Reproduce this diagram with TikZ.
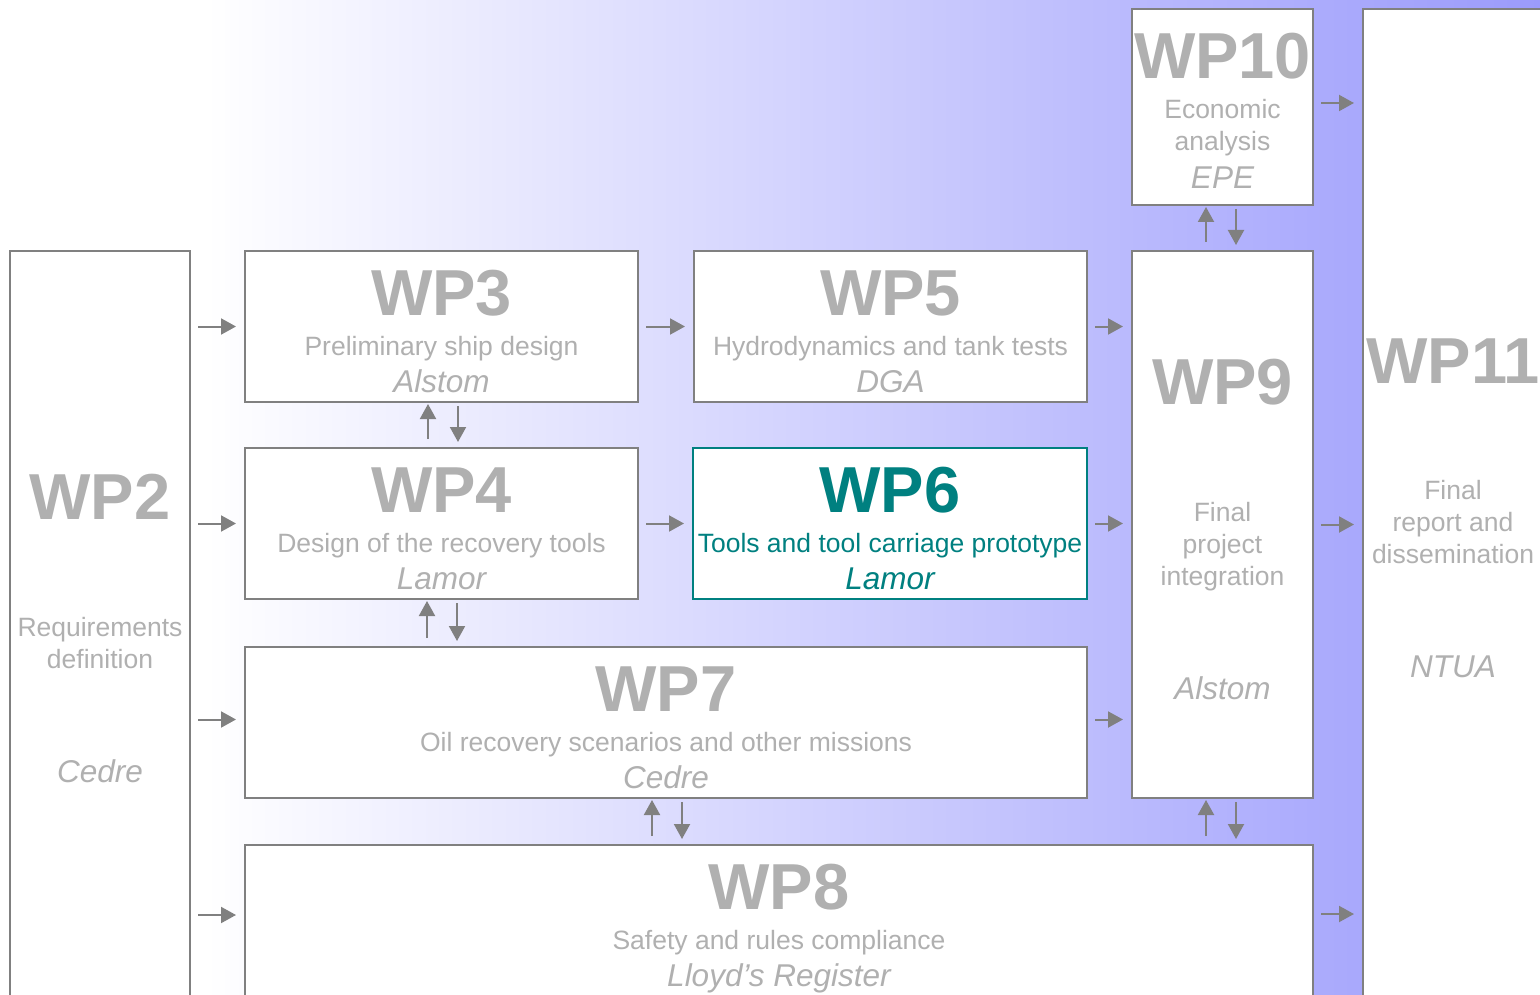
\documentclass[tikz,border=0pt]{standalone}
\usepackage{fontspec}
\setmainfont{Liberation Sans}
\usetikzlibrary{arrows.meta,positioning,calc}

\definecolor{wpline}{RGB}{128,128,128}
\definecolor{wptext}{RGB}{176,176,176}
\definecolor{wpteal}{RGB}{0,128,128}
\definecolor{wplav}{RGB}{155,155,252}

\tikzset{
  wpbox/.style={draw=wpline, line width=2pt, fill=white, inner sep=0pt},
  wptitle/.style={text=wptext, font=\fontsize{65}{65}\selectfont\bfseries, anchor=base, inner sep=0pt},
  wpsub/.style={text=wptext, font=\fontsize{26.5}{32}\selectfont, anchor=base, inner sep=0pt},
  wplead/.style={text=wptext, font=\fontsize{31.5}{32}\selectfont\itshape, anchor=base, inner sep=0pt},
  wptip/.style={-{Triangle[length=15pt,width=16pt]}},
  flow/.style={draw=wpline, line width=2pt, wptip, shorten <=7pt, shorten >=8pt},
  upflow/.style={draw=wpline, line width=2pt, wptip, shorten <=8pt, shorten >=1pt},
  downflow/.style={draw=wpline, line width=2pt, wptip, shorten <=3pt, shorten >=5pt},
}

\begin{document}
\begin{tikzpicture}[x=1pt,y=-1pt]
\useasboundingbox (0,0) rectangle (1540,995);
\clip (0,0) rectangle (1540,995);

% background
\fill[white] (0,0) rectangle (1540,995);
\shade[left color=white, right color=wplav] (205,0) rectangle (1540,995);

% work package boxes
\node[wpbox, minimum width=180, minimum height=759] (wp2) at (100,630.5) {};
\node[wpbox, minimum width=393, minimum height=151] (wp3) at (441.5,326.5) {};
\node[wpbox, minimum width=393, minimum height=151] (wp5) at (890.5,326.5) {};
\node[wpbox, minimum width=393, minimum height=151] (wp4) at (441.5,523.5) {};
\node[wpbox, draw=wpteal, minimum width=394, minimum height=151] (wp6) at (890,523.5) {};
\node[wpbox, minimum width=842, minimum height=151] (wp7) at (666,722.5) {};
\node[wpbox, minimum width=1068, minimum height=154] (wp8) at (779,922) {};
\node[wpbox, minimum width=181, minimum height=547] (wp9) at (1222.5,524.5) {};
\node[wpbox, minimum width=181, minimum height=196] (wp10) at (1222.5,107) {};
\node[wpbox, minimum width=180, minimum height=1001] (wp11) at (1453,509.5) {};

% texts
\node[wptitle] (wp2-title) at ($(wp2.north)+(0,269)$) {WP2};
\node[wpsub] (wp2-text1) at ($(wp2.north)+(0,386)$) {Requirements};
\node[wpsub] (wp2-text2) at ($(wp2.north)+(0,418)$) {definition};
\node[wplead] (wp2-lead) at ($(wp2.north)+(0,532)$) {Cedre};

\node[wptitle] (wp3-title) at ($(wp3.north)+(0,65)$) {WP3};
\node[wpsub] (wp3-text) at ($(wp3.north)+(0,105)$) {Preliminary ship design};
\node[wplead] (wp3-lead) at ($(wp3.north)+(0,142)$) {Alstom};

\node[wptitle] (wp5-title) at ($(wp5.north)+(0,65)$) {WP5};
\node[wpsub] (wp5-text) at ($(wp5.north)+(0,105)$) {Hydrodynamics and tank tests};
\node[wplead] (wp5-lead) at ($(wp5.north)+(0,142)$) {DGA};

\node[wptitle] (wp4-title) at ($(wp4.north)+(0,65)$) {WP4};
\node[wpsub] (wp4-text) at ($(wp4.north)+(0,105)$) {Design of the recovery tools};
\node[wplead] (wp4-lead) at ($(wp4.north)+(0,142)$) {Lamor};

\node[wptitle, text=wpteal] (wp6-title) at ($(wp6.north)+(0,65)$) {WP6};
\node[wpsub, text=wpteal] (wp6-text) at ($(wp6.north)+(0,105)$) {Tools and tool carriage prototype};
\node[wplead, text=wpteal] (wp6-lead) at ($(wp6.north)+(0,142)$) {Lamor};

\node[wptitle] (wp7-title) at ($(wp7.north)+(0,65)$) {WP7};
\node[wpsub] (wp7-text) at ($(wp7.north)+(0,105)$) {Oil recovery scenarios and other missions};
\node[wplead] (wp7-lead) at ($(wp7.north)+(0,142)$) {Cedre};

\node[wptitle] (wp8-title) at ($(wp8.north)+(0,65)$) {WP8};
\node[wpsub] (wp8-text) at ($(wp8.north)+(0,105)$) {Safety and rules compliance};
\node[wplead] (wp8-lead) at ($(wp8.north)+(0,142)$) {Lloyd’s Register};

\node[wptitle] (wp9-title) at ($(wp9.north)+(0,154)$) {WP9};
\node[wpsub] (wp9-text1) at ($(wp9.north)+(0,271)$) {Final};
\node[wpsub] (wp9-text2) at ($(wp9.north)+(0,303)$) {project};
\node[wpsub] (wp9-text3) at ($(wp9.north)+(0,335)$) {integration};
\node[wplead] (wp9-lead) at ($(wp9.north)+(0,449)$) {Alstom};

\node[wptitle] (wp10-title) at ($(wp10.north)+(0,71)$) {WP10};
\node[wpsub] (wp10-text1) at ($(wp10.north)+(0,111)$) {Economic};
\node[wpsub] (wp10-text2) at ($(wp10.north)+(0,143)$) {analysis};
\node[wplead] (wp10-lead) at ($(wp10.north)+(0,181)$) {EPE};

\node[wptitle] (wp11-title) at ($(wp11.north)+(0,375)$) {WP11};
\node[wpsub] (wp11-text1) at ($(wp11.north)+(0,491)$) {Final};
\node[wpsub] (wp11-text2) at ($(wp11.north)+(0,523)$) {report and};
\node[wpsub] (wp11-text3) at ($(wp11.north)+(0,555)$) {dissemination};
\node[wplead] (wp11-lead) at ($(wp11.north)+(0,669)$) {NTUA};

% requirements feed the design packages
\draw[flow] (wp2.east |- wp3.west) -- (wp3.west);
\draw[flow] (wp2.east |- wp4.west) -- (wp4.west);
\draw[flow] ([yshift=3pt]wp2.east |- wp7.west) -- ([yshift=3pt]wp7.west);
\draw[flow] ([yshift=7pt]wp2.east |- wp8.west) -- ([yshift=7pt]wp8.west);

% design chain towards integration
\draw[flow] (wp3.east) -- (wp5.west);
\draw[flow] (wp4.east) -- (wp6.west);
\draw[flow] (wp5.east) -- (wp5.east -| wp9.west);
\draw[flow] (wp6.east) -- (wp6.east -| wp9.west);
\draw[flow] ([yshift=3pt]wp7.east) -- ([yshift=3pt]wp7.east -| wp9.west);

% into dissemination
\draw[flow] ([yshift=4pt]wp10.east) -- ([yshift=4pt]wp10.east -| wp11.west);
\draw[flow] (wp9.east) -- (wp9.east -| wp11.west);
\draw[flow] ([yshift=8pt]wp8.east) -- ([yshift=8pt]wp8.east -| wp11.west);

% two-way exchanges
\draw[upflow] ([xshift=-13.5pt]wp4.north) -- ([xshift=-13.5pt]wp3.south);
\draw[downflow] ([xshift=16.5pt]wp3.south) -- ([xshift=16.5pt]wp4.north);
\draw[upflow] ([xshift=-14.5pt]wp4.south |- wp7.north) -- ([xshift=-14.5pt]wp4.south);
\draw[downflow] ([xshift=15.5pt]wp4.south) -- ([xshift=15.5pt]wp4.south |- wp7.north);
\draw[upflow] ([xshift=-14pt]wp7.south |- wp8.north) -- ([xshift=-14pt]wp7.south);
\draw[downflow] ([xshift=16pt]wp7.south) -- ([xshift=16pt]wp7.south |- wp8.north);
\draw[upflow] ([xshift=-16.5pt]wp9.south |- wp8.north) -- ([xshift=-16.5pt]wp9.south);
\draw[downflow] ([xshift=13.5pt]wp9.south) -- ([xshift=13.5pt]wp9.south |- wp8.north);
\draw[upflow] ([xshift=-16.5pt]wp9.north) -- ([xshift=-16.5pt]wp10.south);
\draw[downflow] ([xshift=13.5pt]wp10.south) -- ([xshift=13.5pt]wp9.north);
\end{tikzpicture}
\end{document}
